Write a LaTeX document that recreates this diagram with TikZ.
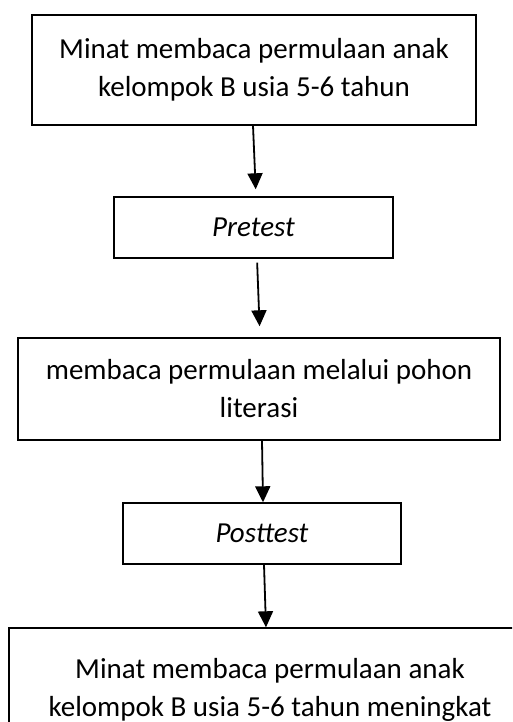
\documentclass[tikz,border=0pt]{standalone}
\usepackage{fontspec}
\setmainfont{Carlito}
\usepackage{tikz}
\usetikzlibrary{arrows.meta}

\begin{document}
\begin{tikzpicture}[x=1pt,y=1pt,
  stage/.style={draw, line width=1.4pt, inner sep=0pt, align=center,
    font=\fontsize{29}{38}\selectfont},
  flow/.style={-{Triangle[width=15pt,length=16pt]}, line width=1.8pt}]
  % Define frame
  \useasboundingbox (0,0) rectangle (512,722);
  \clip (0,0) rectangle (512,722);
  % Draw stages
  \node[stage, minimum width=444pt, minimum height=110pt] (awal) at (254,652)
    {Minat membaca permulaan anak\\kelompok B usia 5-6 tahun};
  \node[stage, minimum width=279pt, minimum height=61pt] (pre) at (253.5,494.5)
    {\itshape Pretest};
  \node[stage, minimum width=482pt, minimum height=102pt] (media) at (259,333)
    {membaca permulaan melalui pohon\\literasi};
  \node[stage, minimum width=278pt, minimum height=61pt] (post) at (262,188.5)
    {\itshape Posttest};
  \node[stage, minimum width=522pt, minimum height=123pt] (akhir) at (270,32.5)
    {Minat membaca permulaan anak\\kelompok B usia 5-6 tahun meningkat};
  % Draw arrows
  \draw[flow, shorten >=7pt] ([xshift=-1pt]awal.south) -- ([xshift=2.5pt]pre.north);
  \draw[flow, shorten <=4pt, shorten >=11pt] ([xshift=3.5pt]pre.south) -- ([xshift=1pt]media.north);
  \draw[flow] ([xshift=3pt]media.south) -- ([xshift=1pt]post.north);
  \draw[flow] ([xshift=2pt]post.south) -- ([xshift=-4pt]akhir.north);
\end{tikzpicture}
\end{document}
